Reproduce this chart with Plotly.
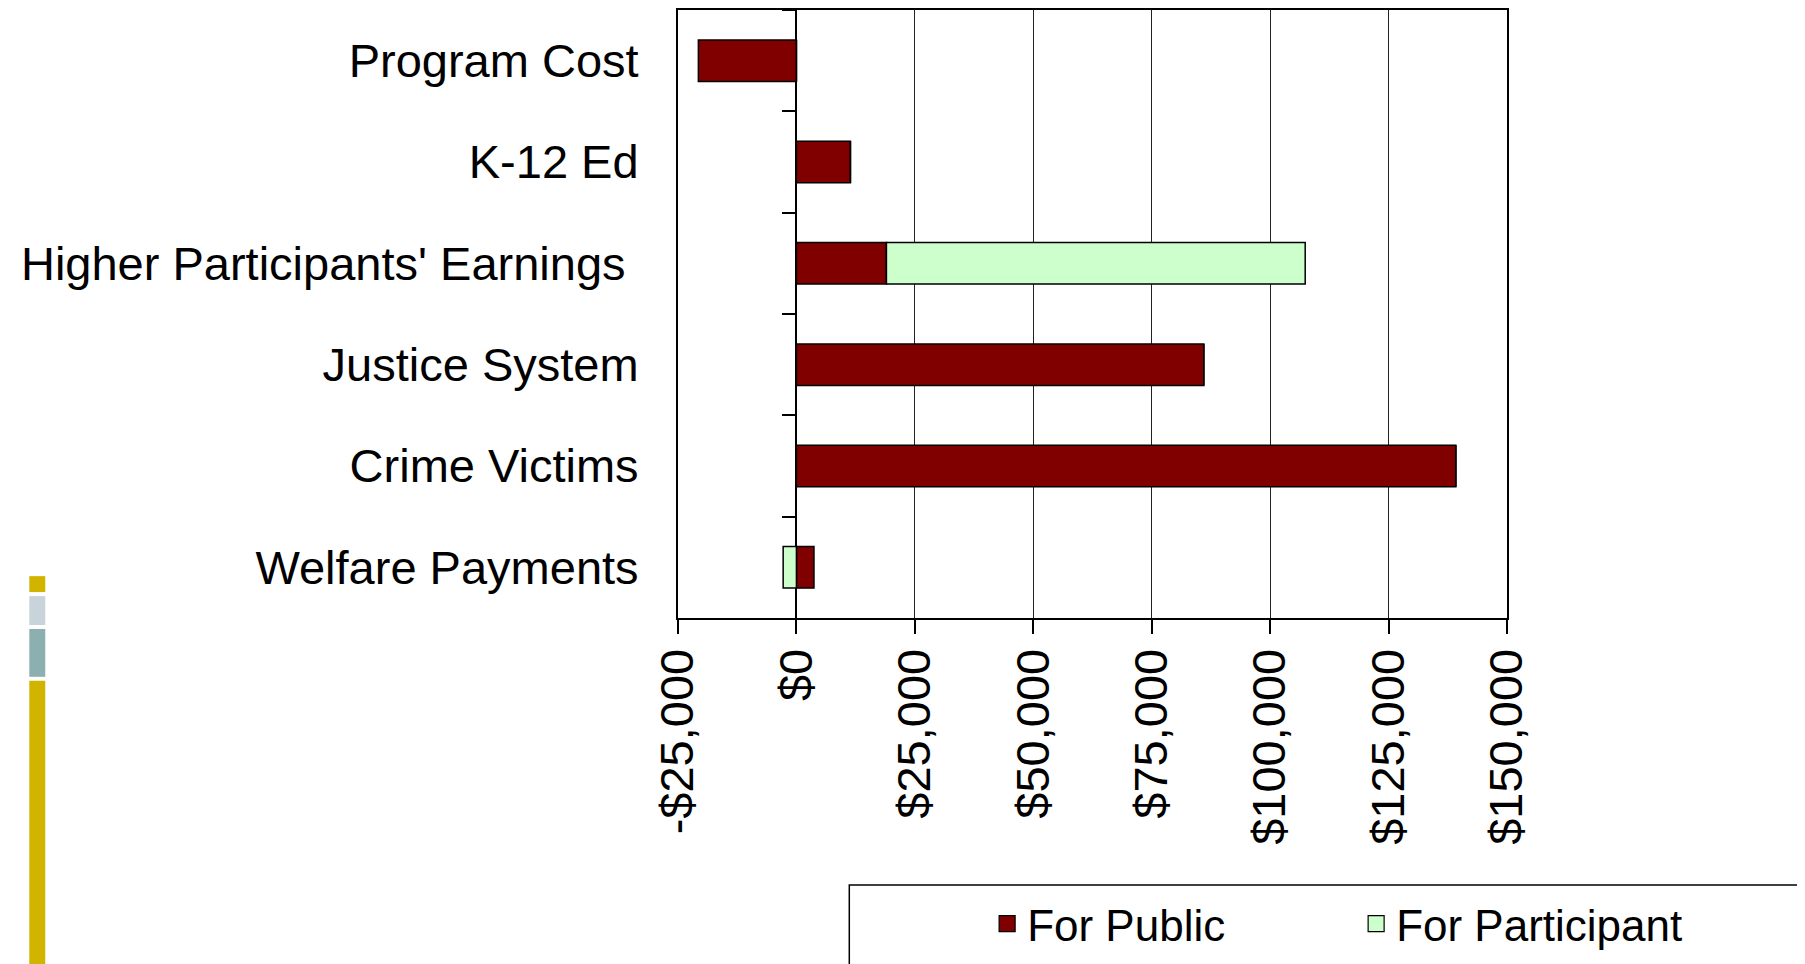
import plotly.graph_objects as go

# data
categories = ["Program Cost", "K-12 Ed", "Higher Participants' Earnings\u00a0",
              "Justice System", "Crime Victims", "Welfare Payments"]
for_public = [-20700, 11400, 19000, 86000, 139200, 3700]
for_participant = [0, 0, 88400, 0, 0, -2800]
series_names = ["For Public", "For Participant"]
series_colors = ["#800000", "#CCFFCC"]
x_tickvals = [-25000, 0, 25000, 50000, 75000, 100000, 125000, 150000]
x_ticktext = ["-$25,000", "$0", "$25,000", "$50,000", "$75,000",
              "$100,000", "$125,000", "$150,000"]

OFF = 8  # the page body margin the browser puts round the figure
W, H = 1805 - OFF, 964 - OFF
# plot area in page pixels
L, R, T, B = 677.5, 1507.5, 8, 618
FONT = "Liberation Sans, Arial, sans-serif"


def px(x):
    return (x - L) / (R - L)


def py(y):
    return (B - y) / (B - T)


fig = go.Figure()
for name, vals, col in zip(series_names, [for_public, for_participant], series_colors):
    fig.add_trace(go.Bar(y=categories, x=vals, name=name, orientation="h", showlegend=False,
                         marker=dict(color=col, line=dict(color="black", width=1.5))))
# legend entries with the larger square keys of the original
for name, col in zip(series_names, series_colors):
    fig.add_trace(go.Scatter(x=[None], y=[None], name=name, mode="markers",
                             marker=dict(symbol="square", size=23, color=col,
                                         line=dict(color="black", width=1.2))))
# invisible helper so the zero-crossing axis gets its category ticks
fig.add_trace(go.Scatter(y=categories, x=[0] * len(categories), yaxis="y2", mode="markers",
                         marker=dict(opacity=0), showlegend=False, hoverinfo="skip"))

rng = [len(categories) - 0.5, -0.5]
fig.update_layout(
    width=W, height=H,
    margin=dict(l=L - OFF, r=W - (R - OFF), t=T - OFF, b=H - (B - OFF), pad=0),
    paper_bgcolor="white", plot_bgcolor="white",
    font=dict(family=FONT, color="black", size=47),
    barmode="relative", bargap=0.59,
    xaxis=dict(range=[-25000, 150000], tickvals=x_tickvals, ticktext=x_ticktext,
               tickangle=-90, ticks="outside", ticklen=14, tickwidth=1.5, tickcolor="black",
               showgrid=True, gridcolor="#222", gridwidth=1.3,
               zeroline=True, zerolinecolor="black", zerolinewidth=2,
               showline=True, linecolor="black", linewidth=2, mirror=True,
               tickfont=dict(size=47), ticklabelstandoff=-4, fixedrange=True),
    yaxis=dict(type="category", categoryarray=categories, range=rng,
               showline=True, linecolor="black", linewidth=2, mirror=True,
               ticks="", showgrid=False, ticklabelstandoff=28,
               tickfont=dict(size=47), fixedrange=True),
    yaxis2=dict(type="category", categoryarray=categories, range=rng,
                overlaying="y", anchor="free", position=px(796.7), side="left",
                showticklabels=False, ticks="outside", tickson="boundaries",
                ticklen=15, tickwidth=1.5, tickcolor="black",
                showline=False, showgrid=False, fixedrange=True),
    legend=dict(orientation="h", x=px(987), xanchor="left", y=py(925), yanchor="middle",
                font=dict(size=44), bgcolor="rgba(0,0,0,0)", borderwidth=0,
                entrywidth=324, traceorder="normal", itemsizing="trace"),
    showlegend=True,
)

shapes = [
    # legend frame (runs off the page like the original)
    dict(type="rect", xref="paper", yref="paper", x0=px(849), x1=px(1900), y0=py(886), y1=py(1000),
         line=dict(color="black", width=1.5), fillcolor="rgba(0,0,0,0)", layer="below"),
]
# decorative strip at the left edge
for y0, y1, col in [(576, 592, "#D1B400"), (596, 625, "#C8D4DA"),
                    (629, 677, "#8CAFAF"), (681, 970, "#D1B400")]:
    shapes.append(dict(type="rect", xref="paper", yref="paper", x0=px(28), x1=px(44),
                       y0=py(y1), y1=py(y0), fillcolor=col, line=dict(width=0)))
fig.update_layout(shapes=shapes)

fig.write_html("out.html")
